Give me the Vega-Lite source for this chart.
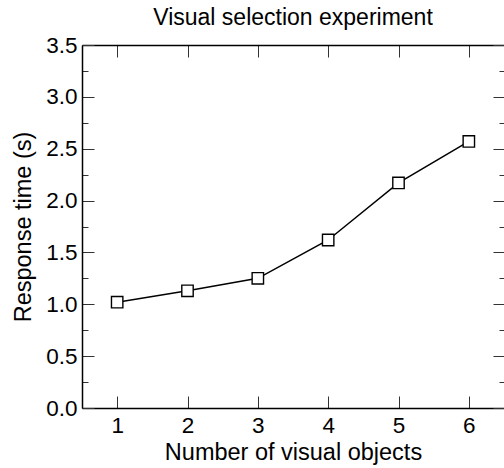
{
  "$schema": "https://vega.github.io/schema/vega-lite/v6.json",
  "width": 422,
  "height": 363,
  "autosize": {"type": "none"},
  "padding": {"left": 82, "top": 45, "right": 0, "bottom": 60},
  "background": "white",
  "title": {"text": "Visual selection experiment", "font": "Liberation Sans", "fontSize": 23, "fontWeight": "normal", "color": "black", "offset": 4},
  "data": {"values": [
    {"objects": 1, "time": 1.02},
    {"objects": 2, "time": 1.13},
    {"objects": 3, "time": 1.25},
    {"objects": 4, "time": 1.62},
    {"objects": 5, "time": 2.17},
    {"objects": 6, "time": 2.57}
  ]},
  "layer": [
    {
      "mark": {"type": "line", "color": "black", "strokeWidth": 1.5},
      "encoding": {
        "x": {"field": "objects", "type": "quantitative", "scale": {"domain": [0.5, 6.5], "nice": false, "zero": false},
          "axis": {"orient": "bottom", "title": "Number of visual objects", "values": [1, 2, 3, 4, 5, 6], "tickSize": -12, "labelPadding": 18, "titlePadding": 4, "grid": false}},
        "y": {"field": "time", "type": "quantitative", "scale": {"domain": [0, 3.5], "nice": false},
          "axis": {"orient": "left", "title": "Response time (s)", "values": [0, 0.25, 0.5, 0.75, 1, 1.25, 1.5, 1.75, 2, 2.25, 2.5, 2.75, 3, 3.25, 3.5],
            "tickSize": {"condition": {"test": "datum.value % 0.5 == 0", "value": -12}, "value": -6},
            "labelExpr": "datum.value % 0.5 == 0 ? format(datum.value, '.1f') : ''",
            "labelPadding": 17, "titlePadding": 10, "grid": false}}
      }
    },
    {
      "mark": {"type": "point", "shape": "square", "filled": true, "fill": "white", "stroke": "black", "strokeWidth": 1.4, "size": 130, "opacity": 1},
      "encoding": {
        "x": {"field": "objects", "type": "quantitative",
          "axis": {"orient": "top", "title": null, "values": [1, 2, 3, 4, 5, 6], "tickSize": -12, "labels": false, "grid": false}},
        "y": {"field": "time", "type": "quantitative",
          "axis": {"orient": "right", "title": null, "domain": false, "labels": false, "values": [0, 0.25, 0.5, 0.75, 1, 1.25, 1.5, 1.75, 2, 2.25, 2.5, 2.75, 3, 3.25, 3.5],
            "tickSize": {"condition": {"test": "datum.value % 0.5 == 0", "value": -11}, "value": -5}, "grid": false}}
      }
    }
  ],
  "resolve": {"axis": {"x": "independent", "y": "independent"}},
  "config": {
    "view": {"stroke": null},
    "font": "Liberation Sans",
    "axis": {
      "domainColor": "black", "domainWidth": 1.5, "tickColor": "#333", "tickWidth": 1,
      "labelFont": "Liberation Sans", "labelFontSize": 22.5, "labelColor": "black",
      "titleFont": "Liberation Sans", "titleFontSize": 23.5, "titleFontWeight": "normal", "titleColor": "black"
    }
  }
}
